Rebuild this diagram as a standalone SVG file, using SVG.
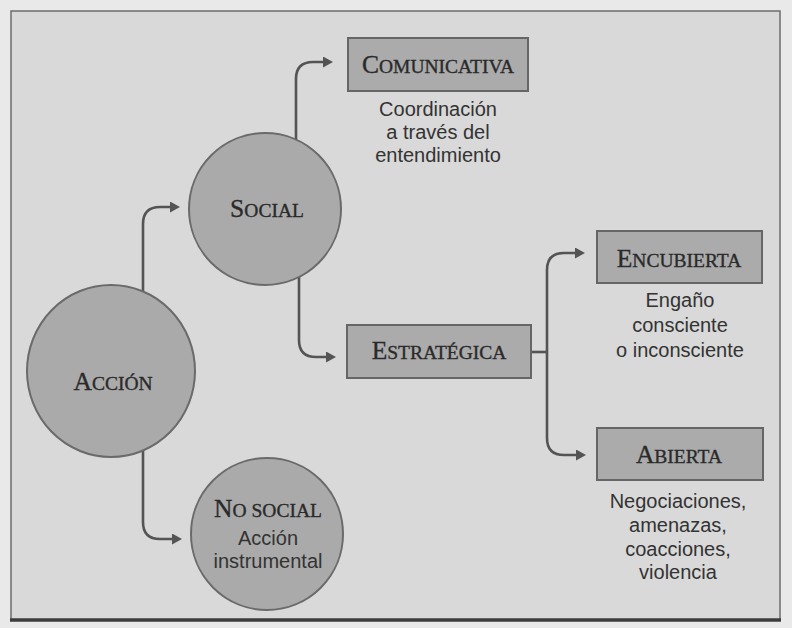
<svg xmlns="http://www.w3.org/2000/svg" width="792" height="628" viewBox="0 0 792 628">
  <style>
    .node-circle { fill: #aaaaaa; stroke: #6a6a6a; stroke-width: 2; }
    .node-box { fill: #ababab; stroke: #666666; stroke-width: 2; }
    .title { font-family: "Liberation Serif", "Times New Roman", serif; fill: #2a2a2a; stroke: #2a2a2a; stroke-width: 0.35; text-anchor: middle; }
    .cap { font-size: 25.5px; }
    .sc { font-size: 19.5px; }
    .desc { font-family: "Liberation Sans", Arial, sans-serif; font-size: 20px; fill: #333333; text-anchor: middle; }
    .link { fill: none; stroke: #545454; stroke-width: 2.6; }
  </style>
  <defs>
    <marker id="arrow" markerUnits="userSpaceOnUse" markerWidth="13" markerHeight="13" refX="1" refY="5.5" orient="auto">
      <path d="M0,0 L10,5.5 L0,11 z" fill="#545454"/>
    </marker>
  </defs>

  <!-- page -->
  <rect x="0" y="0" width="792" height="628" fill="#e9e9e9"/>
  <rect x="11" y="11" width="769" height="609" fill="#d9d9d9" stroke="#6c6c6c" stroke-width="1.5"/>
  <line x1="10" y1="620" x2="781" y2="620" stroke="#3c3c3c" stroke-width="3.5"/>

  <!-- connectors -->
  <g id="connectors">
    <path class="link" d="M143,300 V224 Q143,207 160,207 H171" marker-end="url(#arrow)"/>
    <path class="link" d="M296,150 V79 Q296,62 313,62 H324" marker-end="url(#arrow)"/>
    <path class="link" d="M299,270 V340 Q299,357 316,357 H327" marker-end="url(#arrow)"/>
    <path class="link" d="M143,440 V522 Q143,539 160,539 H173" marker-end="url(#arrow)"/>
    <path class="link" d="M531,352 H547"/>
    <path class="link" d="M547,352 V270 Q547,253 564,253 H576" marker-end="url(#arrow)"/>
    <path class="link" d="M547,352 V438 Q547,455 564,455 H577" marker-end="url(#arrow)"/>
  </g>

  <!-- circles -->
  <g id="accion">
    <ellipse class="node-circle" cx="111" cy="371" rx="84" ry="86"/>
    <text class="title" x="113" y="390"><tspan class="cap">A</tspan><tspan class="sc">CCIÓN</tspan></text>
  </g>

  <g id="social">
    <circle class="node-circle" cx="265" cy="209" r="76"/>
    <text class="title" x="267" y="217"><tspan class="cap">S</tspan><tspan class="sc">OCIAL</tspan></text>
  </g>

  <g id="no-social">
    <circle class="node-circle" cx="267" cy="534" r="76"/>
    <text class="title" x="268" y="517"><tspan class="cap">N</tspan><tspan class="sc">O SOCIAL</tspan></text>
    <text class="desc" x="268" y="545">Acción</text>
    <text class="desc" x="268" y="568">instrumental</text>
  </g>

  <!-- boxes -->
  <g id="comunicativa">
    <rect class="node-box" x="348" y="38" width="180" height="53"/>
    <text class="title" x="438" y="73"><tspan class="cap">C</tspan><tspan class="sc">OMUNICATIVA</tspan></text>
    <text class="desc" x="438" y="116">Coordinación</text>
    <text class="desc" x="438" y="139">a través del</text>
    <text class="desc" x="438" y="162">entendimiento</text>
  </g>

  <g id="estrategica">
    <rect class="node-box" x="347" y="325" width="184" height="53"/>
    <text class="title" x="439" y="359"><tspan class="cap">E</tspan><tspan class="sc">STRATÉGICA</tspan></text>
  </g>

  <g id="encubierta">
    <rect class="node-box" x="597" y="231" width="165" height="52"/>
    <text class="title" x="679" y="267"><tspan class="cap">E</tspan><tspan class="sc">NCUBIERTA</tspan></text>
    <text class="desc" x="680" y="307">Engaño</text>
    <text class="desc" x="680" y="332">consciente</text>
    <text class="desc" x="680" y="357">o inconsciente</text>
  </g>

  <g id="abierta">
    <rect class="node-box" x="597" y="428" width="166" height="52"/>
    <text class="title" x="679" y="463"><tspan class="cap">A</tspan><tspan class="sc">BIERTA</tspan></text>
    <text class="desc" x="678" y="508">Negociaciones,</text>
    <text class="desc" x="678" y="532">amenazas,</text>
    <text class="desc" x="678" y="556">coacciones,</text>
    <text class="desc" x="678" y="579">violencia</text>
  </g>
</svg>
